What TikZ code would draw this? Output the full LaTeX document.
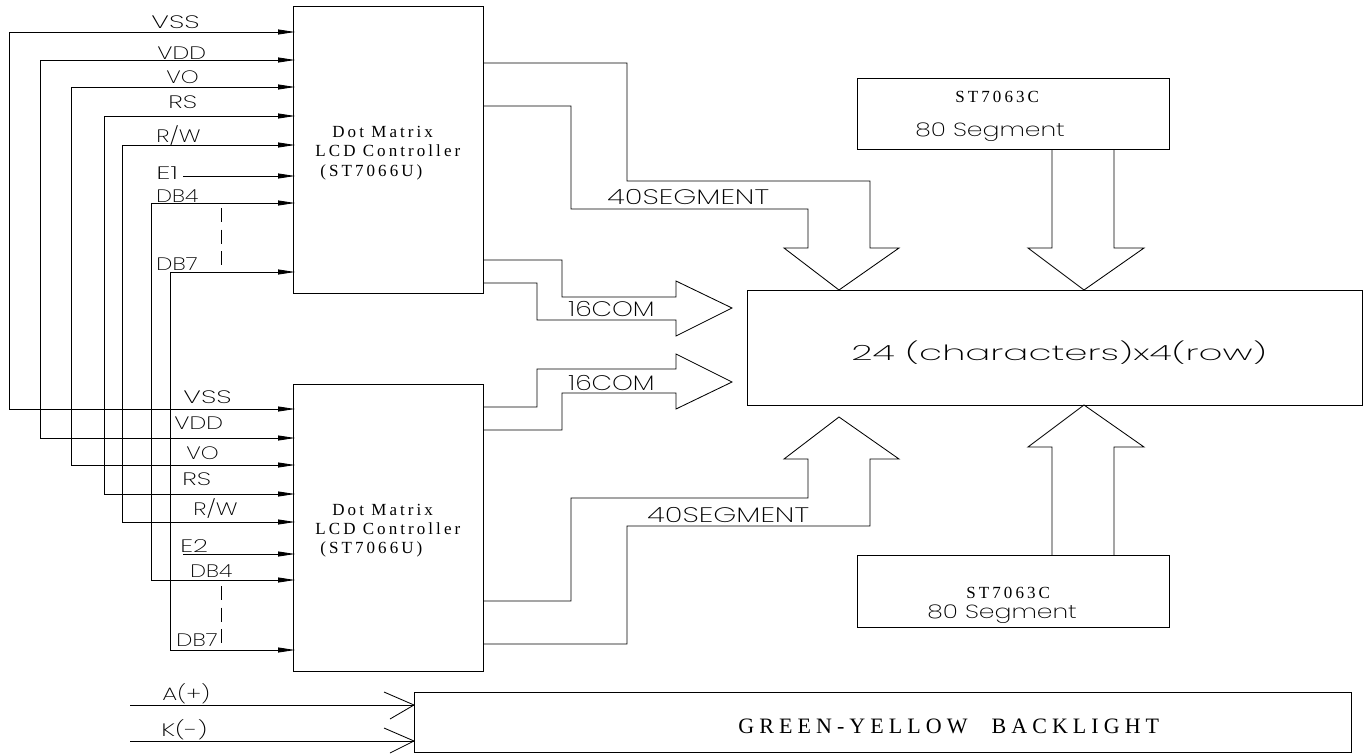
\documentclass[tikz,border=0pt]{standalone}
\usepackage{fontspec}
\usetikzlibrary{arrows.meta,calc}
\setmainfont{Liberation Serif}
\newfontfamily\cadfont[UprightFont=*-ExtraLight]{Poppins}
\newfontfamily\serifspaced[LetterSpace=18]{Liberation Serif}
\newfontfamily\serifwide[LetterSpace=23]{Liberation Serif}
\newcommand\cw[2]{\scalebox{#1}[1]{#2}}
\begin{document}
\begin{tikzpicture}[x=1pt,y=-1pt,
  line width=0.85pt,
  blockbox/.style={draw,rectangle,inner sep=0pt,anchor=north west},
  pin/.style={-{Triangle[length=17pt,width=5pt]}},
  cadlabel/.style={anchor=base west,inner sep=0pt,font=\cadfont\fontsize{18}{18}\selectfont},
  cadbig/.style={anchor=base west,inner sep=0pt,font=\cadfont\fontsize{21}{21}\selectfont},
  cadmid/.style={anchor=base west,inner sep=0pt,font=\cadfont\fontsize{19}{19}\selectfont},
  serlabel/.style={anchor=base west,inner sep=0pt,font=\serifspaced\fontsize{17}{17}\selectfont},
  serbig/.style={anchor=base west,inner sep=0pt,font=\serifwide\fontsize{22}{22}\selectfont}]
\useasboundingbox (0,0) rectangle (1370,753);
% blocks
\node[blockbox,minimum width=190pt,minimum height=287pt] (ctrlA) at (293,6) {};
\node[blockbox,minimum width=190pt,minimum height=287pt] (ctrlB) at (293,384) {};
\node[blockbox,minimum width=615pt,minimum height=115pt] (lcd) at (747,290) {};
\node[blockbox,minimum width=312pt,minimum height=71pt] (segA) at (857,78) {};
\node[blockbox,minimum width=312pt,minimum height=72pt] (segB) at (857,555) {};
\node[blockbox,minimum width=937pt,minimum height=60pt] (bl) at (414,692) {};
% pin ends
\foreach \n/\y in {1/32,2/60,3/87,4/116,5/145,6/176,7/203,8/272}{\coordinate (a\n) at (295,\y);}
\foreach \n/\y in {1/409,2/438,3/465,4/494,5/522,6/554,7/580,8/650}{\coordinate (b\n) at (295,\y);}
\coordinate (t1) at (9,409);\coordinate (t2) at (40,438);\coordinate (t3) at (71,465);
\coordinate (t4) at (104,494);\coordinate (t5) at (122,522);\coordinate (t7) at (151,580);
\coordinate (t8) at (170,650);\coordinate (e1) at (183,176);\coordinate (e2) at (183,554);
\foreach \n in {1,2,3,4,5,7,8}{
  \draw[pin] (t\n) |- (a\n);
  \draw[pin] (t\n) -- (b\n);
}
\draw[pin] (e1) -- (a6);
\draw[pin] (e2) -- (b6);
% dashes
\coordinate (da) at (221,208);\coordinate (db) at (221,265);
\coordinate (dc) at (221,586);\coordinate (dd) at (221,643);
\draw[dash pattern=on 14pt off 7.5pt] (da) -- (db);
\draw[dash pattern=on 14pt off 7.5pt] (dc) -- (dd);
% buses
\draw (483,63) -- (627,63) -- (627,181) -- (870,181) -- (870,248) -- (899,248) -- (839,290) -- (784,248) -- (808,248) -- (808,209) -- (571,209) -- (571,106) -- (483,106);
\draw (483,260) -- (562,260) -- (562,297) -- (676,297) -- (676,281) -- (732,308) -- (676,336) -- (676,320) -- (537,320) -- (537,283) -- (483,283);
\draw (483,407) -- (537,407) -- (537,369) -- (676,369) -- (676,354) -- (732,382) -- (676,409) -- (676,393) -- (562,393) -- (562,430) -- (483,430);
\draw (483,601) -- (571,601) -- (571,498) -- (808,498) -- (808,459) -- (784,459) -- (839,417) -- (899,459) -- (870,459) -- (870,526) -- (627,526) -- (627,644) -- (483,644);
\draw (1052,149) -- (1052,248) -- (1028,248) -- (1084,290) -- (1144,248) -- (1114,248) -- (1114,149);
\draw (1052,555) -- (1052,447) -- (1028,447) -- (1084,405) -- (1144,447) -- (1114,447) -- (1114,555);
% backlight
\coordinate (la) at (130,705);\coordinate (ka) at (130,741);
\coordinate (ab) at (414,705);\coordinate (kb) at (414,741);
\draw (la) -- (ab);\draw (ka) -- (kb);
\draw (384,692) -- (ab) -- (390,719);
\draw (384,728) -- (kb) -- (390,753);
% labels
\node[cadlabel] (l1) at (151,28) {\cw{1.53}{VSS}};
\node[cadlabel] (l2) at (157,59) {\cw{1.32}{VDD}};
\node[cadlabel] (l3) at (166,83) {\cw{1.26}{VO}};
\node[cadlabel] (l4) at (168,108) {\cw{1.43}{RS}};
\node[cadlabel] (l5) at (156,142) {\cw{1.3}{R/W}};
\node[cadlabel] (l6) at (156,179) {\cw{1.6}{E1}};
\node[cadlabel] (l7) at (156,202) {\cw{1.24}{DB4}};
\node[cadlabel] (l8) at (156,270) {\cw{1.27}{DB7}};
\node[cadlabel] (m1) at (183,403) {\cw{1.53}{VSS}};
\node[cadlabel] (m2) at (174,429) {\cw{1.32}{VDD}};
\node[cadlabel] (m3) at (186,459) {\cw{1.26}{VO}};
\node[cadlabel] (m4) at (182,485) {\cw{1.43}{RS}};
\node[cadlabel] (m5) at (193,515) {\cw{1.3}{R/W}};
\node[cadlabel] (m6) at (180,552) {\cw{1.45}{E2}};
\node[cadlabel] (m7) at (190,577) {\cw{1.24}{DB4}};
\node[cadlabel] (m8) at (176,646) {\cw{1.27}{DB7}};
\node[cadlabel] (ta) at (162,700) {\cw{1.32}{A(+)}};
\node[cadlabel] (tk) at (161,736) {\cw{1.44}{K(-)}};
\node[cadbig] (s1) at (607,204) {\cw{1.4}{40SEGMENT}};
\node[cadbig] (s2) at (647,522) {\cw{1.4}{40SEGMENT}};
\node[cadbig] (c1) at (568,316) {\cw{1.26}{16COM}};
\node[cadbig] (c2) at (568,390) {\cw{1.26}{16COM}};
\node[cadbig] (lcdt) at (851,360) {\cw{1.77}{24 (characters)x4(row)}};
\node[cadmid] (sa2) at (915,136) {\cw{1.32}{80 Segment}};
\node[cadmid] (sb2) at (927,618) {\cw{1.32}{80 Segment}};
\node[serlabel] (d1) at (332,137) {Dot Matrix};
\node[serlabel] (d2) at (315,156) {LCD Controller};
\node[serlabel] (d3) at (320,176) {(ST7066U)};
\node[serlabel] (d4) at (332,515) {Dot Matrix};
\node[serlabel] (d5) at (315,534) {LCD Controller};
\node[serlabel] (d6) at (320,553) {(ST7066U)};
\node[serlabel] (sa1) at (955,102) {ST7063C};
\node[serlabel] (sb1) at (966,598) {ST7063C};
\node[serbig] (glt) at (738,733) {GREEN-YELLOW\hspace{24pt}BACKLIGHT};
\end{tikzpicture}
\end{document}
